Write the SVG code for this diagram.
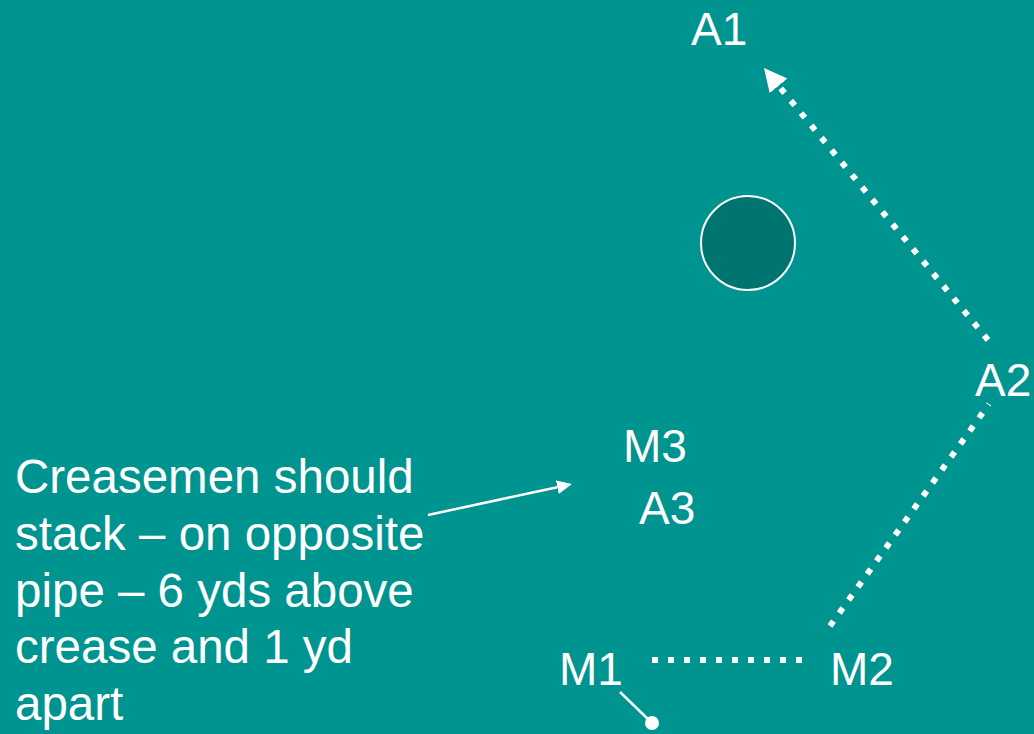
<svg xmlns="http://www.w3.org/2000/svg" width="1034" height="734" viewBox="0 0 1034 734">
  <style>
    .lbl { font-family: "Liberation Sans", Arial, sans-serif; font-size: 46px; fill: #ffffff; }
    .note { font-size: 47.5px; }
    .dots { stroke: #ffffff; stroke-width: 6; stroke-dasharray: 6 10; fill: none; stroke-linecap: butt; }
    .thin { stroke: #ffffff; stroke-width: 2.5; fill: none; }
  </style>
  <defs>
    <marker id="bigHead" markerUnits="userSpaceOnUse" markerWidth="24" markerHeight="24" refX="0" refY="11.5" orient="auto">
      <path d="M0,0 L23,11.5 L0,23 z" fill="#ffffff"/>
    </marker>
    <marker id="smallHead" markerUnits="userSpaceOnUse" markerWidth="16" markerHeight="15" refX="0" refY="7" orient="auto">
      <path d="M0,0 L15,7 L0,14 z" fill="#ffffff"/>
    </marker>
  </defs>
  <rect x="0" y="0" width="1034" height="734" fill="#009490"/>

  <g id="ball">
    <circle cx="748" cy="243" r="47" fill="#007570" stroke="#ffffff" stroke-width="2"/>
  </g>

  <g id="connectors">
    <line class="dots" x1="988" y1="340" x2="778.6" y2="85.8" marker-end="url(#bigHead)"/>
    <line class="dots" x1="830" y1="626" x2="989" y2="404"/>
    <line class="dots" x1="652" y1="660" x2="804" y2="660"/>
    <line class="thin" x1="428" y1="515" x2="557.3" y2="487.2" marker-end="url(#smallHead)"/>
    <line class="thin" x1="620" y1="692" x2="652" y2="723"/>
    <circle cx="652" cy="723" r="7" fill="#ffffff"/>
  </g>

  <g id="A1"><text class="lbl" x="691" y="45">A1</text></g>
  <g id="A2"><text class="lbl" x="975" y="396">A2</text></g>
  <g id="M3"><text class="lbl" x="623" y="462">M3</text></g>
  <g id="A3"><text class="lbl" x="639" y="524">A3</text></g>
  <g id="M1"><text class="lbl" x="559" y="685">M1</text></g>
  <g id="M2"><text class="lbl" x="830" y="685">M2</text></g>

  <g id="note">
    <text class="lbl note">
      <tspan x="15" y="493">Creasemen should</tspan>
      <tspan x="15" y="550">stack – on opposite</tspan>
      <tspan x="15" y="607">pipe – 6 yds above</tspan>
      <tspan x="15" y="663">crease and 1 yd</tspan>
      <tspan x="15" y="720">apart</tspan>
    </text>
  </g>
</svg>
